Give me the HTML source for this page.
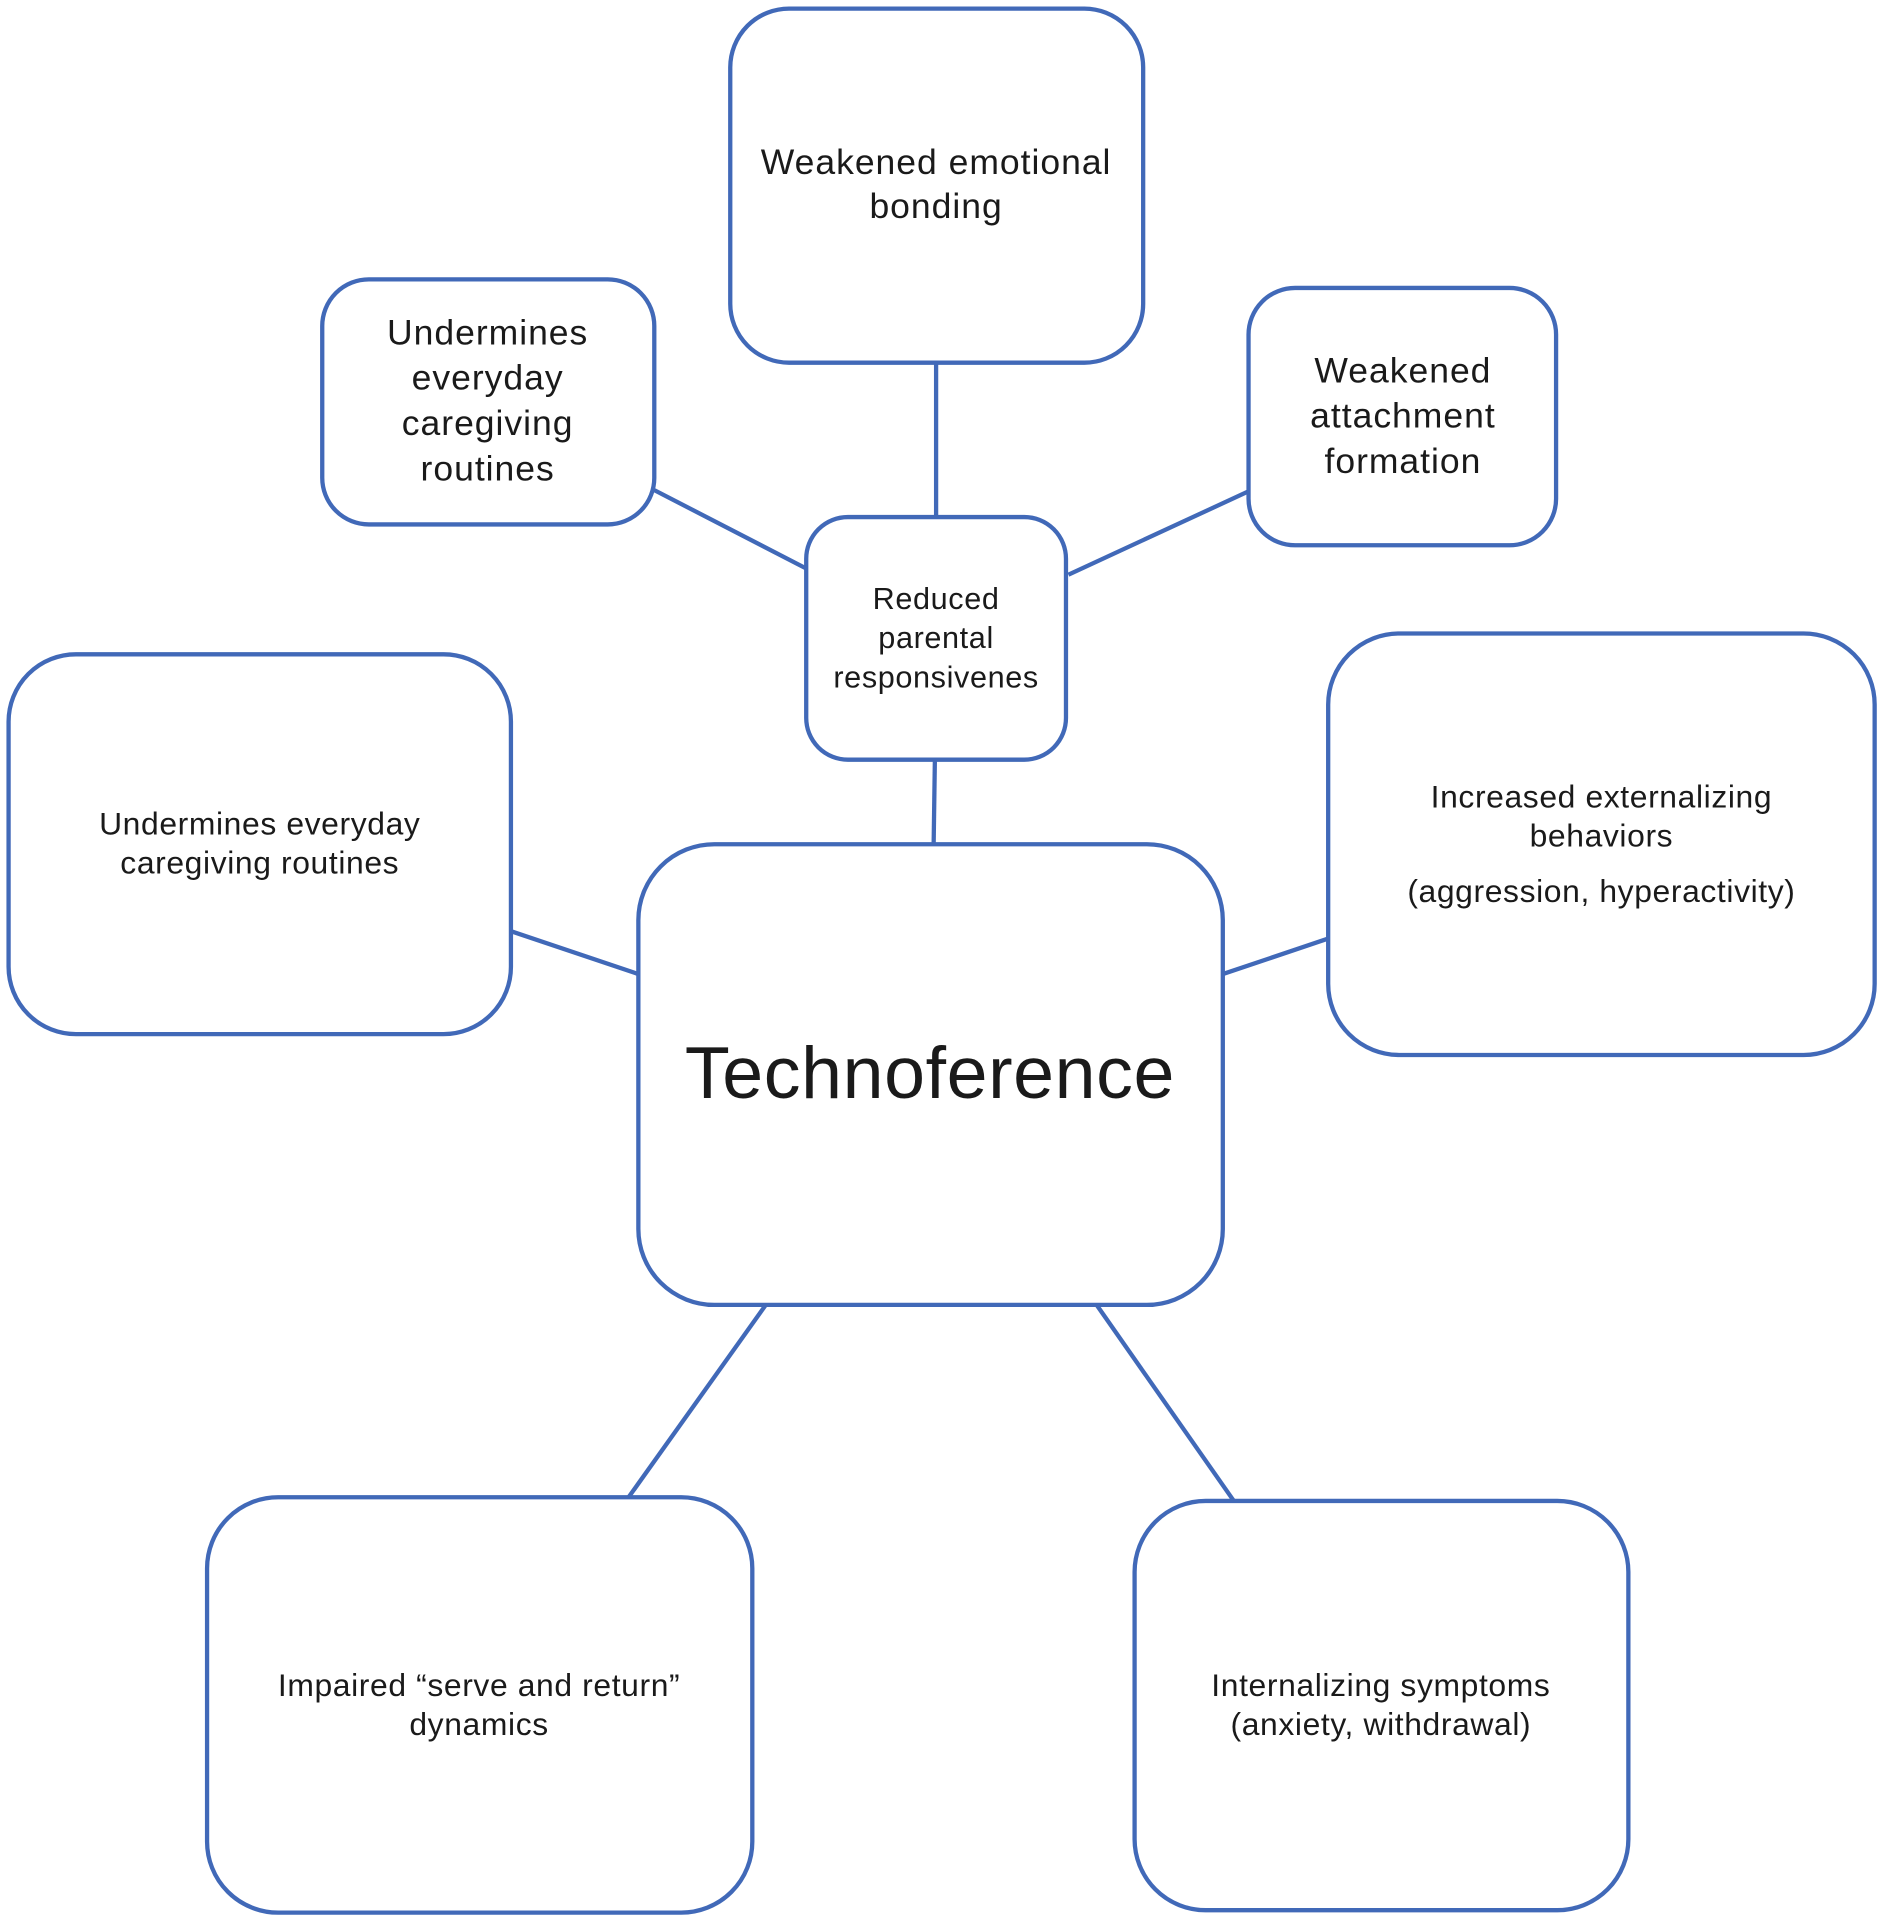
<!DOCTYPE html>
<html><head><meta charset="utf-8"><style>html,body{margin:0;padding:0;background:#fff}svg{display:block}</style></head>
<body>
<svg width="1882" height="1920" viewBox="0 0 1536 1567" xmlns="http://www.w3.org/2000/svg" font-family="'Liberation Sans', sans-serif" fill="#1a1a1a">
<g stroke="#4169b8" stroke-width="3.5" fill="none">
<line x1="764" y1="296" x2="764" y2="422"/>
<line x1="534" y1="400" x2="658" y2="464"/>
<line x1="872" y1="469" x2="1019" y2="401"/>
<line x1="763" y1="620" x2="762" y2="689"/>
<line x1="417" y1="760" x2="521" y2="795"/>
<line x1="998" y1="795" x2="1084" y2="766"/>
<line x1="625" y1="1065" x2="513" y2="1222"/>
<line x1="895" y1="1065" x2="1007" y2="1225"/>
<rect x="596" y="7" width="337" height="289" rx="48" fill="#fff"/>
<rect x="263" y="228" width="271" height="200" rx="38" fill="#fff"/>
<rect x="1019" y="235" width="251" height="210" rx="38" fill="#fff"/>
<rect x="658" y="422" width="212" height="198" rx="34" fill="#fff"/>
<rect x="7" y="534" width="410" height="310" rx="55" fill="#fff"/>
<rect x="1084" y="517" width="446" height="344" rx="58" fill="#fff"/>
<rect x="521" y="689" width="477" height="376" rx="62" fill="#fff"/>
<rect x="169" y="1222" width="445" height="339" rx="58" fill="#fff"/>
<rect x="926" y="1225" width="403" height="334" rx="58" fill="#fff"/>
</g>
<g text-anchor="middle" stroke="none">
<g font-size="29" letter-spacing="0.8"><text x="764" y="142">Weakened emotional</text><text x="764" y="178">bonding</text></g>
<g font-size="29" letter-spacing="0.8"><text x="398" y="281">Undermines</text><text x="398" y="318">everyday</text><text x="398" y="355">caregiving</text><text x="398" y="392">routines</text></g>
<g font-size="29" letter-spacing="0.8"><text x="1145" y="312">Weakened</text><text x="1145" y="349">attachment</text><text x="1145" y="386">formation</text></g>
<g font-size="25" letter-spacing="0.5"><text x="764" y="497">Reduced</text><text x="764" y="529">parental</text><text x="764" y="561">responsivenes</text></g>
<g font-size="26" letter-spacing="0.5"><text x="212" y="681">Undermines everyday</text><text x="212" y="713">caregiving routines</text></g>
<g font-size="26" letter-spacing="0.5"><text x="1307" y="659">Increased externalizing</text><text x="1307" y="691">behaviors</text><text x="1307" y="736">(aggression, hyperactivity)</text></g>
<text x="759" y="896" font-size="60" letter-spacing="0.5">Technoference</text>
<g font-size="26" letter-spacing="0.5"><text x="391" y="1384">Impaired “serve and return”</text><text x="391" y="1416">dynamics</text></g>
<g font-size="26" letter-spacing="0.5"><text x="1127" y="1384">Internalizing symptoms</text><text x="1127" y="1416">(anxiety, withdrawal)</text></g>
</g>
</svg>
</body></html>
